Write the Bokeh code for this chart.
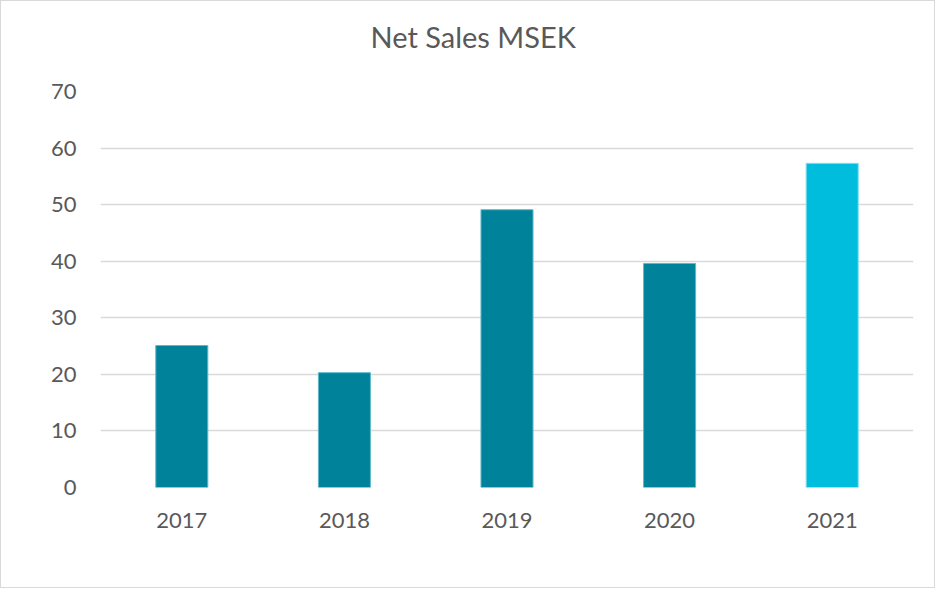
from bokeh.plotting import figure
from bokeh.models import ColumnDataSource, Range1d, FixedTicker, Title
from bokeh.embed import file_html
from bokeh.resources import INLINE

years = ["2017", "2018", "2019", "2020", "2021"]
net_sales = [25.1, 20.3, 49.1, 39.6, 57.3]
y_ticks = [0, 10, 20, 30, 40, 50, 60, 70]
title_text = "Net Sales MSEK"

bar_colors = ["#00829B", "#00829B", "#00829B", "#00829B", "#00BDDD"]
edge_colors = ["#5FB8C8", "#5FB8C8", "#5FB8C8", "#5FB8C8", "#7FDDF0"]

src = ColumnDataSource(dict(year=years, value=net_sales, color=bar_colors, edge=edge_colors))

FONT = "Lato"
TXT = "#595959"

p = figure(x_range=years, y_range=Range1d(0, 70), width=935, height=588,
           output_backend="svg", toolbar_location=None, tools="",
           min_border_left=99, min_border_right=23, min_border_top=90, min_border_bottom=102)
p.styles = {"border": "1px solid #d9d9d9", "box-sizing": "border-box"}

p.vbar(x="year", top="value", width=0.32, source=src, fill_color="color",
       line_color="edge", line_width=1)

p.title = None
# blank spacer between frame and title, then the title itself
p.add_layout(Title(text=" ", text_font_size="22px", standoff=0), "above")
p.add_layout(Title(text=title_text, align="left", offset=270, text_font=FONT,
                   text_font_size="29px", text_font_style="normal",
                   text_color=TXT, standoff=22), "above")

p.outline_line_color = None
p.background_fill_color = "white"
p.border_fill_color = "white"

p.xgrid.grid_line_color = None
p.ygrid.grid_line_color = "#d9d9d9"
p.ygrid.grid_line_width = 1.5
p.yaxis.ticker = FixedTicker(ticks=y_ticks)

for ax in (p.xaxis, p.yaxis):
    ax.axis_line_color = None
    ax.major_tick_line_color = None
    ax.minor_tick_line_color = None
    ax.major_label_text_font = FONT
    ax.major_label_text_font_size = "22px"
    ax.major_label_text_color = TXT

p.yaxis.major_label_standoff = 18
p.xaxis.major_label_standoff = 19

open("out.html", "w").write(file_html(p, INLINE))
